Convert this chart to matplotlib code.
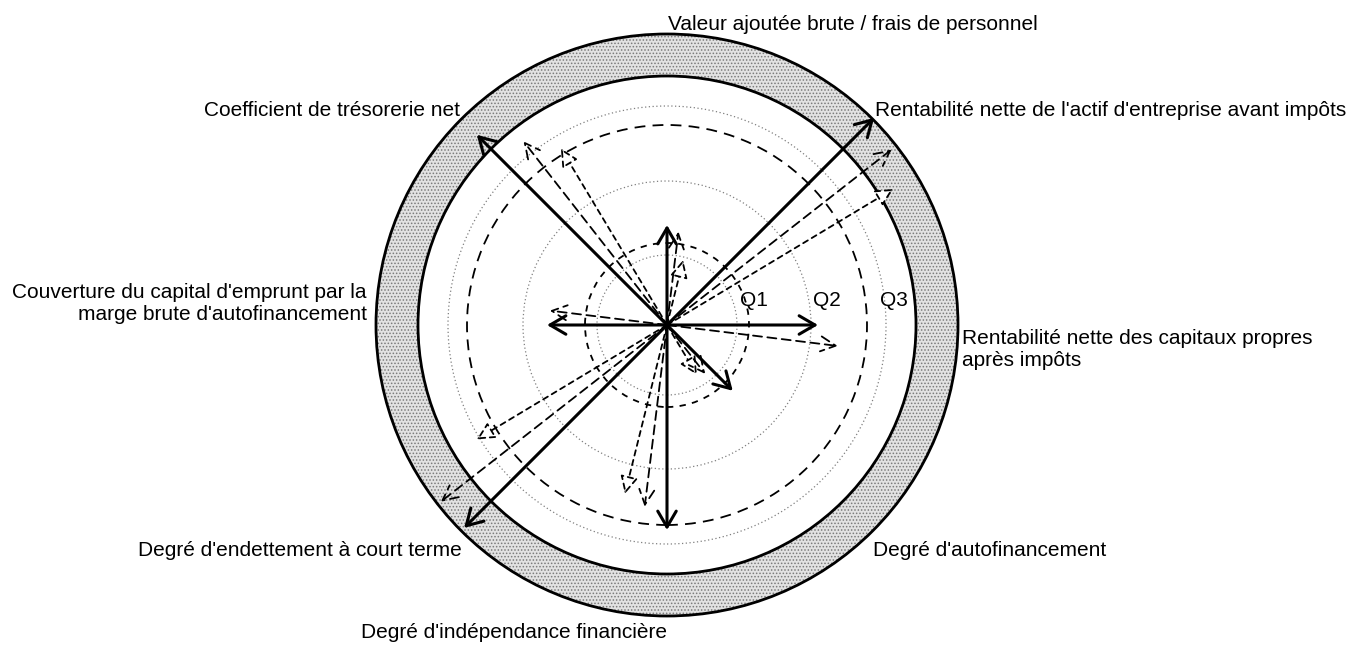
import numpy as np
import matplotlib
matplotlib.use("Agg")
import matplotlib.pyplot as plt
from matplotlib.patches import Circle, Wedge

plt.rcParams['font.family'] = ['Liberation Sans', 'DejaVu Sans']
plt.rcParams['hatch.linewidth'] = 0.7

# axis directions (degrees) and their labels
axis_angles = [90, 45, 0, -45, -90, -135, 180, 135]
axis_labels = [
    "Valeur ajoutée brute / frais de personnel",
    "Rentabilité nette de l'actif d'entreprise avant impôts",
    "Rentabilité nette des capitaux propres\naprès impôts",
    "Degré d'autofinancement",
    "Degré d'indépendance financière",
    "Degré d'endettement à court terme",
    "Couverture du capital d'emprunt par la\nmarge brute d'autofinancement",
    "Coefficient de trésorerie net",
]

# arrow lengths per axis (same unit as the rings)
solid_values = [100, 293, 151, 93, 205, 287, 120, 269]
long_dash_values = [94, 285, 172, 62, 183, 287, 118, 233]
short_dash_values = [67, 264, None, 58, 174, 222, None, 206]

# reference rings
quartile_names = ["Q1", "Q2", "Q3"]
dashed_rings = [82, 200]
dotted_rings = [70, 144, 219]
inner_ring = 249
outer_ring = 291

fig = plt.figure(figsize=(13.6, 6.46), dpi=100)
ax = fig.add_axes([0, 0, 1, 1])
ax.set_xlim(-667, 693)
ax.set_ylim(-321, 325)
ax.axis('off')

# stippled outer band
ax.add_patch(Wedge((0, 0), outer_ring, 0, 360, width=outer_ring - inner_ring,
                   facecolor='#e2e2e2', edgecolor='#7a7a7a', hatch='.....', lw=0))
for r in (inner_ring, outer_ring):
    ax.add_patch(Circle((0, 0), r, fill=False, ec='black', lw=2.0))

for r in dotted_rings:
    ax.add_patch(Circle((0, 0), r, fill=False, ec='#808080', lw=0.9, ls=(0, (1, 2))))
ax.add_patch(Circle((0, 0), dashed_rings[0], fill=False, ec='black', lw=1.3, ls=(0, (3.5, 3.5))))
ax.add_patch(Circle((0, 0), dashed_rings[1], fill=False, ec='black', lw=1.3, ls=(0, (6, 4))))

for name, x in zip(quartile_names, [73, 146, 213]):
    ax.text(x, 25, name, fontsize=15, ha='left', va='center')


def draw_series(values, offset, props):
    for ang, v in zip(axis_angles, values):
        if v is None:
            continue
        a = np.radians(ang + offset)
        ax.annotate('', xy=(v * np.cos(a), v * np.sin(a)), xytext=(0, 0),
                    arrowprops=dict(shrinkA=0, shrinkB=0, **props))


draw_series(short_dash_values, -14,
            dict(arrowstyle='-|>,head_length=0.6,head_width=0.3', mutation_scale=18,
                 fc='white', ec='black', lw=1.3, ls=(0, (3, 2.5))))
draw_series(long_dash_values, -7,
            dict(arrowstyle='->,head_length=0.6,head_width=0.3', mutation_scale=18,
                 color='black', lw=1.3, ls=(0, (5, 3))))
draw_series(solid_values, 0,
            dict(arrowstyle='->,head_length=0.6,head_width=0.35', mutation_scale=19,
                 color='black', lw=2.2))

# label anchors (x, y, ha) and line spacing
label_pos = [
    (1, 300, 'left'),
    (208, 215, 'left'),
    (295, -14, 'left'),
    (206, -225, 'left'),
    (0, -307, 'right'),
    (-205, -225, 'right'),
    (-300, 32, 'right'),
    (-207, 214, 'right'),
]
for text, (x, y, ha) in zip(axis_labels, label_pos):
    for i, line in enumerate(text.split('\n')):
        ax.text(x, y - 21 * i, line, fontsize=15, ha=ha, va='center')

fig.savefig('out.png', dpi=100, facecolor='white')
